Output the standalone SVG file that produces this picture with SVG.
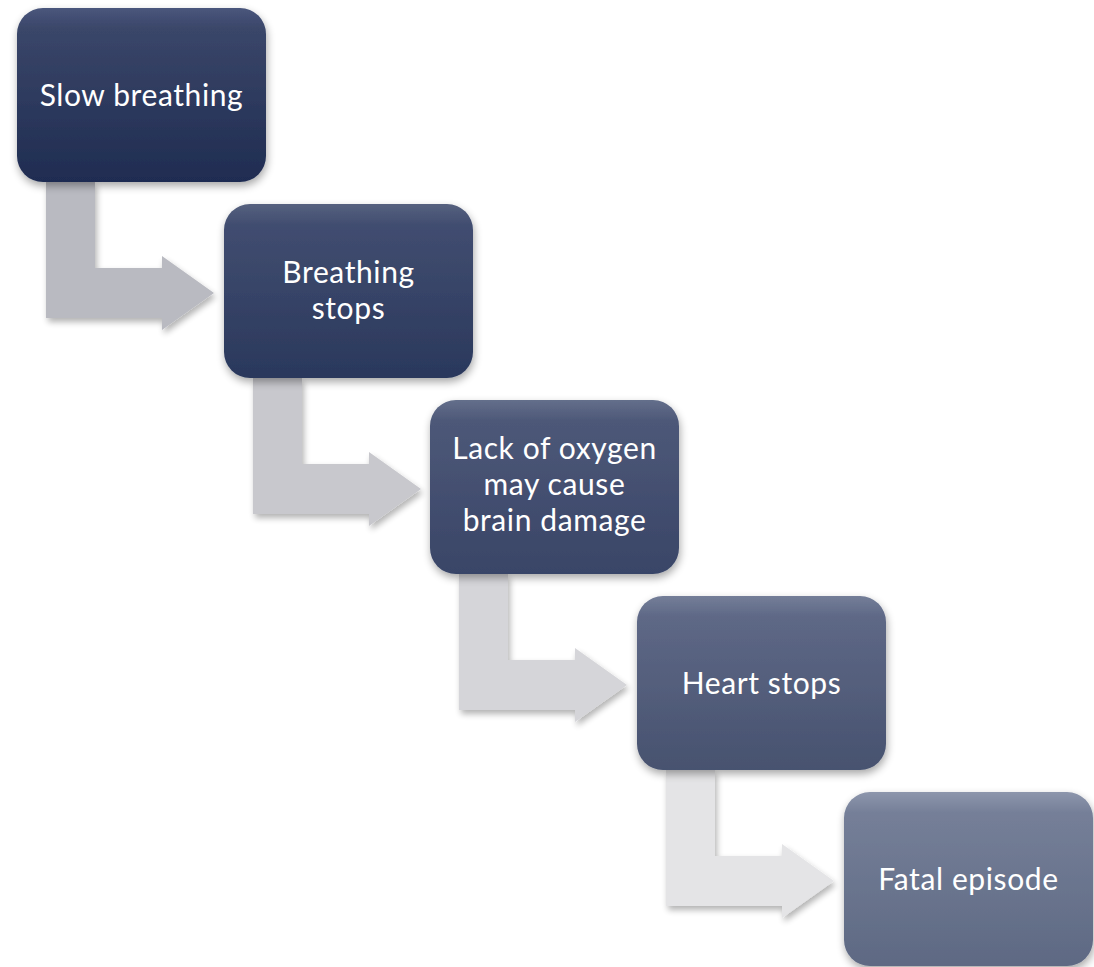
<svg xmlns="http://www.w3.org/2000/svg" width="1094" height="967" viewBox="0 0 1094 967">
<style>
.lbl{font-family:"Lato","Liberation Sans",sans-serif;font-size:30px;letter-spacing:0.6px;fill:#ffffff;text-anchor:middle}
.arrow{filter:url(#ash)}
.box{filter:url(#bsh)}
</style>
<defs>
<filter id="bsh" x="-10%" y="-10%" width="125%" height="130%">
<feGaussianBlur in="SourceAlpha" stdDeviation="4"/>
<feOffset dx="1" dy="4" result="b"/>
<feComponentTransfer><feFuncA type="linear" slope="0.35"/></feComponentTransfer>
<feMerge><feMergeNode/><feMergeNode in="SourceGraphic"/></feMerge>
</filter>
<filter id="ash" x="-10%" y="-10%" width="125%" height="130%">
<feGaussianBlur in="SourceAlpha" stdDeviation="3"/>
<feOffset dx="2" dy="4" result="b"/>
<feComponentTransfer><feFuncA type="linear" slope="0.3"/></feComponentTransfer>
<feMerge><feMergeNode/><feMergeNode in="SourceGraphic"/></feMerge>
</filter>
<linearGradient id="g1" x1="0" y1="0" x2="0" y2="1">
<stop offset="0" stop-color="#4a567c"/><stop offset="0.12" stop-color="#3a4669"/><stop offset="1" stop-color="#1f2c51"/>
</linearGradient>
<linearGradient id="g2" x1="0" y1="0" x2="0" y2="1">
<stop offset="0" stop-color="#56617f"/><stop offset="0.12" stop-color="#414d70"/><stop offset="1" stop-color="#2a385c"/>
</linearGradient>
<linearGradient id="g3" x1="0" y1="0" x2="0" y2="1">
<stop offset="0" stop-color="#646f8b"/><stop offset="0.12" stop-color="#4d5878"/><stop offset="1" stop-color="#394567"/>
</linearGradient>
<linearGradient id="g4" x1="0" y1="0" x2="0" y2="1">
<stop offset="0" stop-color="#747e98"/><stop offset="0.12" stop-color="#5e6886"/><stop offset="1" stop-color="#47526f"/>
</linearGradient>
<linearGradient id="g5" x1="0" y1="0" x2="0" y2="1">
<stop offset="0" stop-color="#8d96ac"/><stop offset="0.12" stop-color="#757f98"/><stop offset="1" stop-color="#5e6983"/>
</linearGradient>
<path id="arr" d="M0,0 H49 V86 H116 V74 L168,111 L116,148 V136 H0 Z"/>
</defs>
<g id="connectors">
<use href="#arr" class="arrow" x="46" y="182" fill="#b9bac1"/>
<use href="#arr" class="arrow" x="253" y="378" fill="#c8c8cd"/>
<use href="#arr" class="arrow" x="459" y="574" fill="#d5d5d9"/>
<use href="#arr" class="arrow" x="666" y="770" fill="#e4e4e6"/>
</g>
<g id="n1">
<rect class="box" x="17" y="8" width="249" height="174" rx="26" fill="url(#g1)"/>
<text class="lbl" x="141.5" y="106">Slow breathing</text>
</g>
<g id="n2">
<rect class="box" x="224" y="204" width="249" height="174" rx="26" fill="url(#g2)"/>
<text class="lbl" x="348.5" y="283">Breathing</text>
<text class="lbl" x="348.5" y="319">stops</text>
</g>
<g id="n3">
<rect class="box" x="430" y="400" width="249" height="174" rx="26" fill="url(#g3)"/>
<text class="lbl" x="554.5" y="459">Lack of oxygen</text>
<text class="lbl" x="554.5" y="495">may cause</text>
<text class="lbl" x="554.5" y="531">brain damage</text>
</g>
<g id="n4">
<rect class="box" x="637" y="596" width="249" height="174" rx="26" fill="url(#g4)"/>
<text class="lbl" x="761.5" y="694">Heart stops</text>
</g>
<g id="n5">
<rect class="box" x="844" y="792" width="249" height="174" rx="26" fill="url(#g5)"/>
<text class="lbl" x="968.5" y="890">Fatal episode</text>
</g>
</svg>
